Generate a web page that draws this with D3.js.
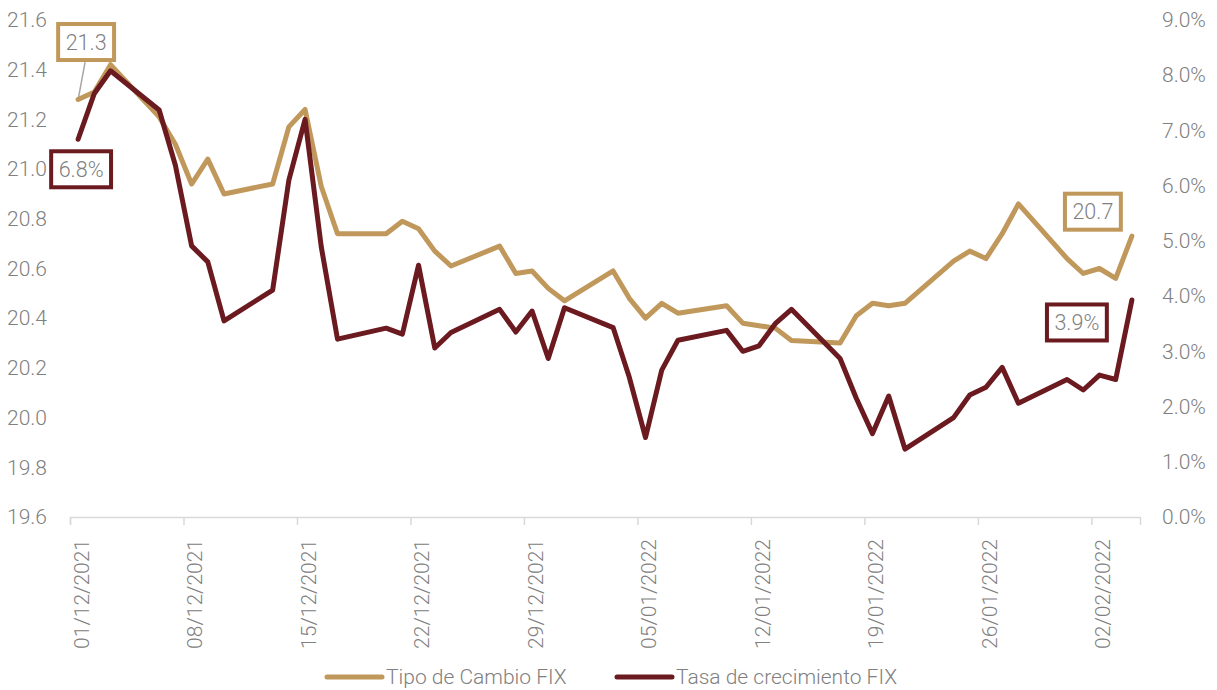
<!DOCTYPE html>
<html>
<head>
<meta charset="utf-8">
<script src="https://cdn.jsdelivr.net/npm/d3@7"></script>
<style>
  html, body { margin: 0; padding: 0; background: #ffffff; }
  svg { display: block; }
  text { font-family: "Roboto", "Lato", sans-serif; font-weight: 300; fill: #808080; }
</style>
</head>
<body>
<svg id="chart" width="1217" height="690"></svg>
<script>
// ---------- DATA ----------
const dates = [
  "2021-12-01","2021-12-02","2021-12-03","2021-12-06","2021-12-07","2021-12-08","2021-12-09","2021-12-10",
  "2021-12-13","2021-12-14","2021-12-15","2021-12-16","2021-12-17","2021-12-20","2021-12-21","2021-12-22",
  "2021-12-23","2021-12-24","2021-12-27","2021-12-28","2021-12-29","2021-12-30","2021-12-31","2022-01-03",
  "2022-01-04","2022-01-05","2022-01-06","2022-01-07","2022-01-10","2022-01-11","2022-01-12","2022-01-13",
  "2022-01-14","2022-01-17","2022-01-18","2022-01-19","2022-01-20","2022-01-21","2022-01-24","2022-01-25",
  "2022-01-26","2022-01-27","2022-01-28","2022-01-31","2022-02-01","2022-02-02","2022-02-03","2022-02-04"
];
const tipoCambio = [
  21.28, 21.31, 21.42, 21.21, 21.10, 20.94, 21.04, 20.90,
  20.94, 21.17, 21.24, 20.93, 20.74, 20.74, 20.79, 20.76,
  20.67, 20.61, 20.69, 20.58, 20.59, 20.52, 20.47, 20.59,
  20.48, 20.40, 20.46, 20.42, 20.45, 20.38, 20.37, 20.36,
  20.31, 20.30, 20.41, 20.46, 20.45, 20.46, 20.63, 20.67,
  20.64, 20.74, 20.86, 20.64, 20.58, 20.60, 20.56, 20.73
];
const tasaCrecimiento = [
  6.84, 7.67, 8.08, 7.37, 6.37, 4.91, 4.62, 3.55,
  4.11, 6.10, 7.20, 4.89, 3.22, 3.42, 3.31, 4.56,
  3.06, 3.34, 3.76, 3.35, 3.73, 2.87, 3.79, 3.43,
  2.53, 1.44, 2.66, 3.20, 3.38, 3.00, 3.10, 3.50,
  3.76, 2.87, 2.15, 1.51, 2.19, 1.23, 1.80, 2.21,
  2.35, 2.71, 2.06, 2.49, 2.30, 2.57, 2.49, 3.93
];
const leftTicks = [19.6, 19.8, 20.0, 20.2, 20.4, 20.6, 20.8, 21.0, 21.2, 21.4, 21.6];
const rightTicks = [0, 1, 2, 3, 4, 5, 6, 7, 8, 9];
const seriesNames = ["Tipo de Cambio FIX", "Tasa de crecimiento FIX"];
const axisStart = "2021-12-01";
const axisEnd = "2022-02-05";

// ---------- SETUP ----------
const svg = d3.select("#chart");
const parse = d3.utcParse("%Y-%m-%d");
const fmtDate = d3.utcFormat("%d/%m/%Y");
const GOLD = "#C0985B";
const DARK = "#6B1A20";

const plotTop = 20, plotBottom = 517, plotLeft = 70, plotRight = 1140;

const x = d3.scaleUtc().domain([parse(axisStart), parse(axisEnd)]).range([plotLeft, plotRight]);
const yL = d3.scaleLinear().domain([19.6, 21.6]).range([plotBottom, plotTop]);
const yR = d3.scaleLinear().domain([0, 9]).range([plotBottom, plotTop]);

const pts = dates.map((d, i) => ({
  date: d3.utcHour.offset(parse(d), 12),
  fx: tipoCambio[i],
  g: tasaCrecimiento[i]
}));

// ---------- AXES ----------
const tickDates = d3.utcDay.range(parse(axisStart), parse(axisEnd), 7);
const xAxis = svg.append("g").attr("transform", `translate(0,${plotBottom})`)
  .call(d3.axisBottom(x).tickValues(tickDates).tickSize(8).tickFormat(fmtDate));
xAxis.select(".domain").attr("stroke", "#d9d9d9").attr("stroke-width", 1.5);
xAxis.selectAll(".tick line").attr("stroke", "#d9d9d9").attr("stroke-width", 1.5);
xAxis.selectAll(".tick text")
  .attr("transform", "rotate(-90)")
  .attr("text-anchor", "end")
  .attr("dy", "0.35em")
  .attr("x", -22)
  .attr("y", 11)
  .style("font-size", "21px")
  .style("font-family", "Roboto, Lato, sans-serif")
  .style("font-weight", 300)
  .attr("fill", "#808080");

const yAxisL = svg.append("g").attr("transform", "translate(47,0)")
  .call(d3.axisLeft(yL).tickValues(leftTicks).tickSize(0).tickPadding(0).tickFormat(d3.format(".1f")));
yAxisL.select(".domain").remove();
yAxisL.selectAll(".tick text").style("font-size", "21px").style("font-family", "Roboto, Lato, sans-serif")
  .style("font-weight", 300).attr("fill", "#808080");

const yAxisR = svg.append("g").attr("transform", "translate(1162,0)")
  .call(d3.axisRight(yR).tickValues(rightTicks).tickSize(0).tickPadding(0).tickFormat(d => d.toFixed(1) + "%"));
yAxisR.select(".domain").remove();
yAxisR.selectAll(".tick text").style("font-size", "21px").style("font-family", "Roboto, Lato, sans-serif")
  .style("font-weight", 300).attr("fill", "#808080");

// ---------- LINES ----------
const lineFx = d3.line().x(d => x(d.date)).y(d => yL(d.fx));
const lineG = d3.line().x(d => x(d.date)).y(d => yR(d.g));

svg.append("path").datum(pts).attr("d", lineFx)
  .attr("fill", "none").attr("stroke", GOLD).attr("stroke-width", 5)
  .attr("stroke-linejoin", "round").attr("stroke-linecap", "round");
svg.append("path").datum(pts).attr("d", lineG)
  .attr("fill", "none").attr("stroke", DARK).attr("stroke-width", 5)
  .attr("stroke-linejoin", "round").attr("stroke-linecap", "round");

// ---------- ANNOTATIONS ----------
const first = pts[0], last = pts[pts.length - 1];
const annotations = [
  { px: x(first.date), py: yL(first.fx), dx: 8, dy: -57.5, label: first.fx.toFixed(1), color: GOLD, connector: true },
  { px: x(first.date), py: yR(first.g), dx: 3, dy: 30, label: first.g.toFixed(1) + "%", color: DARK, connector: false },
  { px: x(last.date), py: yL(last.fx), dx: -39, dy: -24.5, label: last.fx.toFixed(1), color: GOLD, connector: false },
  { px: x(last.date), py: yR(last.g), dx: -55, dy: 22.5, label: last.g.toFixed(1) + "%", color: DARK, connector: false }
];
annotations.forEach(a => {
  const cx = a.px + a.dx, cy = a.py + a.dy;
  const g = svg.append("g");
  const rect = g.append("rect").attr("fill", "#ffffff").attr("stroke", a.color).attr("stroke-width", 4);
  const t = g.append("text").attr("x", cx).attr("y", cy).attr("dy", "0.35em")
    .attr("text-anchor", "middle").style("font-size", "21.5px").text(a.label);
  const bb = t.node().getBBox();
  const w = bb.width + 15, h = 36;
  rect.attr("x", cx - w / 2).attr("y", cy - h / 2).attr("width", w).attr("height", h);
  if (a.connector) {
    svg.insert("line", "g")
      .attr("x1", cx - 1).attr("y1", cy + h / 2 + 2).attr("x2", a.px).attr("y2", a.py)
      .attr("stroke", "#a6a6a6").attr("stroke-width", 1.5);
  }
});

// ---------- LEGEND ----------
const legend = svg.append("g").attr("transform", "translate(0,677)");
const legItems = [
  { name: seriesNames[0], color: GOLD, x0: 327 },
  { name: seriesNames[1], color: DARK, x0: 617 }
];
legItems.forEach(it => {
  legend.append("line").attr("x1", it.x0).attr("x2", it.x0 + 55).attr("y1", 0).attr("y2", 0)
    .attr("stroke", it.color).attr("stroke-width", 5).attr("stroke-linecap", "round");
  legend.append("text").attr("x", it.x0 + 59).attr("y", 0).attr("dy", "0.33em")
    .style("font-size", "21px").text(it.name);
});
</script>
</body>
</html>
